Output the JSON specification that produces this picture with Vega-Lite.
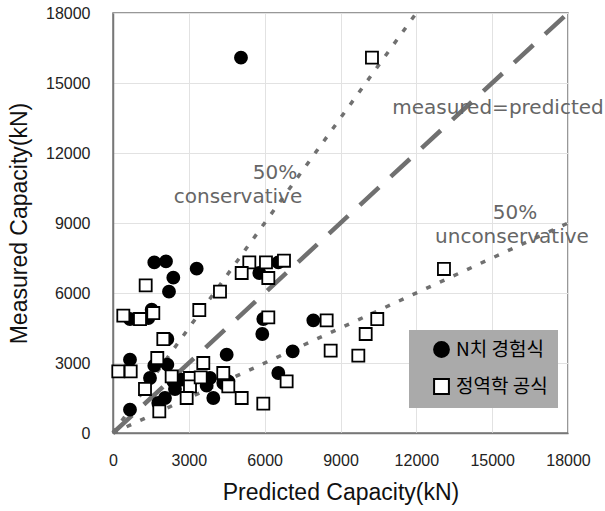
{
  "$schema": "https://vega.github.io/schema/vega-lite/v6.json",
  "autosize": {"type": "none"},
  "padding": {"left": 113, "top": 13, "right": 37, "bottom": 78},
  "width": 455,
  "height": 420,
  "background": "white",
  "config": {
    "view": {"stroke": "#777777", "strokeWidth": 1.5},
    "font": "Liberation Sans",
    "axis": {
      "gridColor": "#e2e2e2",
      "gridWidth": 1,
      "domainColor": "#777777",
      "domainWidth": 1.5,
      "ticks": false,
      "labelFlush": false,
      "labelFont": "Liberation Sans",
      "labelFontSize": 16,
      "labelColor": "#222222",
      "titleFont": "Liberation Sans",
      "titleFontSize": 23,
      "titleFontWeight": "normal",
      "titleColor": "#111111"
    },
    "legend": {
      "orient": "none",
      "legendX": 296,
      "legendY": 317,
      "direction": "vertical",
      "fillColor": "#aaaaaa",
      "padding": 10,
      "symbolOffset": 13,
      "symbolSize": 220,
      "symbolStrokeWidth": 2,
      "labelOffset": 5,
      "rowPadding": 14,
      "labelFont": "Noto Sans CJK KR",
      "labelFontSize": 19,
      "labelColor": "black",
      "labelLimit": 200
    }
  },
  "datasets": {
    "pts": [
      {"series": "N치 경험식", "pred": 5063, "meas": 16085},
      {"series": "N치 경험식", "pred": 1634, "meas": 7312},
      {"series": "N치 경험식", "pred": 2096, "meas": 7355},
      {"series": "N치 경험식", "pred": 3310, "meas": 7042},
      {"series": "N치 경험식", "pred": 2386, "meas": 6656},
      {"series": "N치 경험식", "pred": 2215, "meas": 6056},
      {"series": "N치 경험식", "pred": 1530, "meas": 5285},
      {"series": "N치 경험식", "pred": 1397, "meas": 4928},
      {"series": "N치 경험식", "pred": 672, "meas": 4885},
      {"series": "N치 경험식", "pred": 2150, "meas": 4028},
      {"series": "N치 경험식", "pred": 5946, "meas": 4885},
      {"series": "N치 경험식", "pred": 5906, "meas": 4243},
      {"series": "N치 경험식", "pred": 5788, "meas": 6857},
      {"series": "N치 경험식", "pred": 6540, "meas": 7312},
      {"series": "N치 경험식", "pred": 7925, "meas": 4827},
      {"series": "N치 경험식", "pred": 7108, "meas": 3499},
      {"series": "N치 경험식", "pred": 6540, "meas": 2571},
      {"series": "N치 경험식", "pred": 4497, "meas": 3356},
      {"series": "N치 경험식", "pred": 672, "meas": 3142},
      {"series": "N치 경험식", "pred": 1634, "meas": 2885},
      {"series": "N치 경험식", "pred": 2150, "meas": 2928},
      {"series": "N치 경험식", "pred": 1464, "meas": 2357},
      {"series": "N치 경험식", "pred": 2386, "meas": 2212},
      {"series": "N치 경험식", "pred": 2717, "meas": 2285},
      {"series": "N치 경험식", "pred": 2452, "meas": 1886},
      {"series": "N치 경험식", "pred": 3837, "meas": 2357},
      {"series": "N치 경험식", "pred": 3705, "meas": 2027},
      {"series": "N치 경험식", "pred": 3968, "meas": 1500},
      {"series": "N치 경험식", "pred": 4363, "meas": 2143},
      {"series": "N치 경험식", "pred": 4561, "meas": 2212},
      {"series": "N치 경험식", "pred": 2057, "meas": 1500},
      {"series": "N치 경험식", "pred": 1792, "meas": 1286},
      {"series": "N치 경험식", "pred": 672, "meas": 1000},
      {"series": "정역학 공식", "pred": 10245, "meas": 16085},
      {"series": "정역학 공식", "pred": 13093, "meas": 7030},
      {"series": "정역학 공식", "pred": 5393, "meas": 7312},
      {"series": "정역학 공식", "pred": 6052, "meas": 7312},
      {"series": "정역학 공식", "pred": 6764, "meas": 7384},
      {"series": "정역학 공식", "pred": 5091, "meas": 6857},
      {"series": "정역학 공식", "pred": 6144, "meas": 6643},
      {"series": "정역학 공식", "pred": 1293, "meas": 6326},
      {"series": "정역학 공식", "pred": 4233, "meas": 6056},
      {"series": "정역학 공식", "pred": 3414, "meas": 5271},
      {"series": "정역학 공식", "pred": 408, "meas": 5027},
      {"series": "정역학 공식", "pred": 1068, "meas": 4885},
      {"series": "정역학 공식", "pred": 1594, "meas": 5142},
      {"series": "정역학 공식", "pred": 6144, "meas": 4956},
      {"series": "정역학 공식", "pred": 8452, "meas": 4827},
      {"series": "정역학 공식", "pred": 10455, "meas": 4885},
      {"series": "정역학 공식", "pred": 9996, "meas": 4243},
      {"series": "정역학 공식", "pred": 8611, "meas": 3527},
      {"series": "정역학 공식", "pred": 9705, "meas": 3313},
      {"series": "정역학 공식", "pred": 1991, "meas": 4028},
      {"series": "정역학 공식", "pred": 1752, "meas": 3213},
      {"series": "정역학 공식", "pred": 210, "meas": 2640},
      {"series": "정역학 공식", "pred": 700, "meas": 2640},
      {"series": "정역학 공식", "pred": 2321, "meas": 2427},
      {"series": "정역학 공식", "pred": 3046, "meas": 2357},
      {"series": "정역학 공식", "pred": 3046, "meas": 1997},
      {"series": "정역학 공식", "pred": 3572, "meas": 3000},
      {"series": "정역학 공식", "pred": 3469, "meas": 2384},
      {"series": "정역학 공식", "pred": 4363, "meas": 2571},
      {"series": "정역학 공식", "pred": 1266, "meas": 1886},
      {"series": "정역학 공식", "pred": 2914, "meas": 1500},
      {"series": "정역학 공식", "pred": 1832, "meas": 926},
      {"series": "정역학 공식", "pred": 5091, "meas": 1500},
      {"series": "정역학 공식", "pred": 5946, "meas": 1256},
      {"series": "정역학 공식", "pred": 6869, "meas": 2212},
      {"series": "정역학 공식", "pred": 4561, "meas": 1997}
    ],
    "eqline": [
      {"pred": 0, "meas": 0},
      {"pred": 18000, "meas": 18000}
    ],
    "dotlines": [
      {"line": "cons", "pred": 0, "meas": 0},
      {"line": "cons", "pred": 12000, "meas": 18000},
      {"line": "uncons", "pred": 0, "meas": 0},
      {"line": "uncons", "pred": 18000, "meas": 9000}
    ],
    "labels": [
      {"label": "measured=predicted", "pred": 15230, "meas": 13943},
      {"label": "50%", "pred": 6408, "meas": 11157},
      {"label": "conservative", "pred": 4945, "meas": 10130},
      {"label": "50%", "pred": 15902, "meas": 9443},
      {"label": "unconservative", "pred": 15783, "meas": 8414}
    ]
  },
  "layer": [
    {
      "data": {"name": "dotlines"},
      "mark": {"type": "line", "color": "#707070", "strokeWidth": 3.5, "strokeDash": [5, 10]},
      "encoding": {
        "x": {"field": "pred", "type": "quantitative", "scale": {"domain": [0, 18000], "nice": false}, "axis": {"values": [0, 3000, 6000, 9000, 12000, 15000, 18000], "format": "d", "labelPadding": 19, "title": "Predicted Capacity(kN)", "titlePadding": 13}},
        "y": {"field": "meas", "type": "quantitative", "scale": {"domain": [0, 18000], "nice": false}, "axis": {"values": [0, 3000, 6000, 9000, 12000, 15000, 18000], "format": "d", "labelPadding": 23, "title": "Measured Capacity(kN)", "titlePadding": 14}},
        "detail": {"field": "line"}
      }
    },
    {
      "data": {"name": "eqline"},
      "mark": {"type": "line", "color": "#707070", "strokeWidth": 4.5, "strokeDash": [26, 16]},
      "encoding": {
        "x": {"field": "pred", "type": "quantitative"},
        "y": {"field": "meas", "type": "quantitative"}
      }
    },
    {
      "data": {"name": "labels"},
      "mark": {"type": "text", "font": "DejaVu Sans", "fontSize": 20, "color": "#666666", "align": "center", "baseline": "middle"},
      "encoding": {
        "x": {"field": "pred", "type": "quantitative"},
        "y": {"field": "meas", "type": "quantitative"},
        "text": {"field": "label"}
      }
    },
    {
      "data": {"name": "pts"},
      "mark": {"type": "point", "filled": false, "size": 145, "stroke": "black", "strokeWidth": 1.8, "opacity": 1, "fillOpacity": 1},
      "encoding": {
        "x": {"field": "pred", "type": "quantitative"},
        "y": {"field": "meas", "type": "quantitative"},
        "shape": {"field": "series", "type": "nominal", "scale": {"domain": ["N치 경험식", "정역학 공식"], "range": ["circle", "square"]}, "legend": {"title": null}},
        "fill": {"field": "series", "type": "nominal", "scale": {"domain": ["N치 경험식", "정역학 공식"], "range": ["black", "white"]}, "legend": {"title": null}}
      }
    }
  ]
}
